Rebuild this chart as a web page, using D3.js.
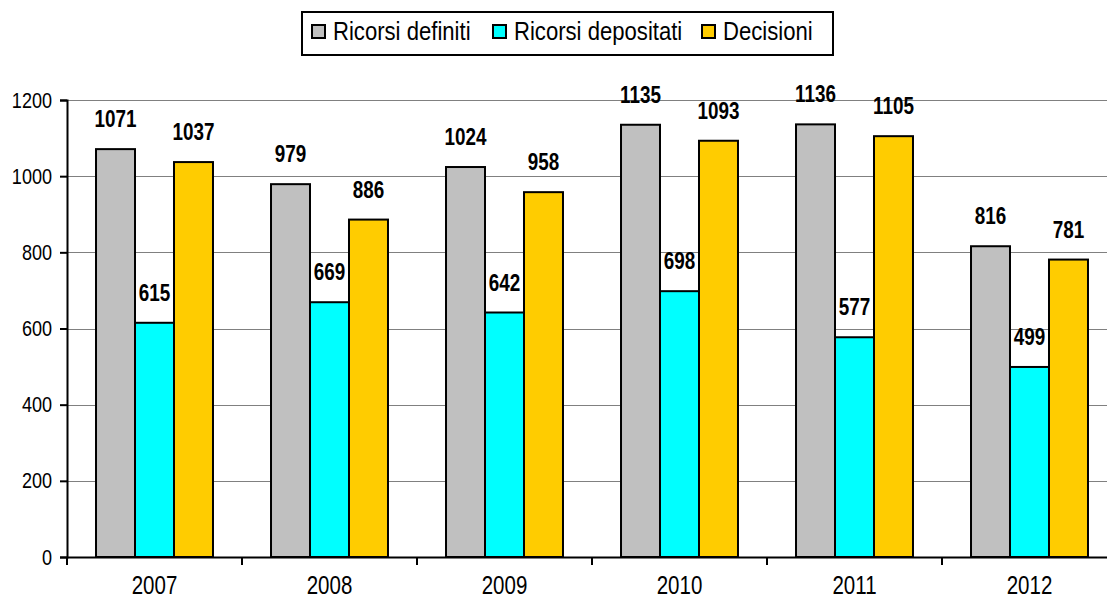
<!DOCTYPE html>
<html><head><meta charset="utf-8">
<script src="https://cdn.jsdelivr.net/npm/d3@7/dist/d3.min.js"></script>
<style>
body{margin:0;background:#fff;}
svg{display:block;}
text{font-family:"Liberation Sans",Arial,sans-serif;fill:#000;}
</style></head><body>
<svg id="c" width="1107" height="601"></svg>
<script>
const years = ["2007","2008","2009","2010","2011","2012"];
const seriesNames = ["Ricorsi definiti","Ricorsi depositati","Decisioni"];
const definiti = [1071,979,1024,1135,1136,816];
const depositati = [615,669,642,698,577,499];
const decisioni = [1037,886,958,1093,1105,781];
const colors = ["#C0C0C0","#00FFFF","#FFCC00"];
const yTicks = [0,200,400,600,800,1000,1200];

const series = [definiti, depositati, decisioni];
const svg = d3.select("#c");
function narrow(sel, f){
  sel.each(function(){
    const len = this.getComputedTextLength();
    d3.select(this).attr("textLength", len*f).attr("lengthAdjust","spacingAndGlyphs");
  });
}

const plotL = 67, plotR = 1117, plotT = 100, plotB = 557;
const x = d3.scaleBand().domain(years).range([plotL, plotR]).paddingInner(0).paddingOuter(0);
const x1 = d3.scaleBand().domain(seriesNames).range([0, x.bandwidth()]).paddingOuter(0.744).paddingInner(0);
const y = d3.scaleLinear().domain([0,1200]).range([plotB, plotT]);

// gridlines
svg.append("g").selectAll("line").data(yTicks.filter(d=>d>0)).join("line")
  .attr("x1", plotL).attr("x2", 1107)
  .attr("y1", d=>Math.round(y(d))+0.5).attr("y2", d=>Math.round(y(d))+0.5)
  .attr("stroke", "#808080").attr("stroke-width", 1.2);

// bars
const g = svg.append("g");
years.forEach((yr,i)=>{
  seriesNames.forEach((s,j)=>{
    const v = series[j][i];
    g.append("rect")
      .attr("x", x(yr) + x1(s))
      .attr("y", y(v))
      .attr("width", x1.bandwidth())
      .attr("height", y(0) - y(v))
      .attr("fill", colors[j]).attr("stroke", "#000").attr("stroke-width", 2);
  });
});
years.forEach((yr,i)=>{
  seriesNames.forEach((s,j)=>{
    const v = series[j][i];
    g.append("text").attr("class","lbl")
      .attr("x", x(yr) + x1(s) + x1.bandwidth()/2)
      .attr("y", y(v) - 22)
      .attr("text-anchor","middle")
      .attr("font-size", 23).attr("font-weight","bold")
      .text(v);
  });
});
narrow(g.selectAll("text.lbl"), 0.82);

// y axis
const yAxis = d3.axisLeft(y).tickValues(yTicks).tickFormat(d3.format("d")).tickSize(7).tickPadding(8);
const ya = svg.append("g").attr("transform", `translate(${plotL},0)`).call(yAxis);
ya.select(".domain").attr("stroke","#000").attr("stroke-width",2);
ya.selectAll(".tick line").attr("stroke","#000").attr("stroke-width",2);
ya.selectAll(".tick text").attr("font-size",22).attr("fill","#000")
  .style("font-family",'"Liberation Sans",Arial,sans-serif');
narrow(ya.selectAll(".tick text"), 0.82);

// x axis
const xAxis = d3.axisBottom(x).tickSize(0).tickPadding(0);
const xa = svg.append("g").attr("transform", `translate(0,${y(0)})`).call(xAxis);
xa.select(".domain").attr("stroke","#000").attr("stroke-width",2);
xa.selectAll(".tick text").attr("font-size",25).attr("fill","#000").attr("dy",null).attr("y",37)
  .style("font-family",'"Liberation Sans",Arial,sans-serif');
narrow(xa.selectAll(".tick text"), 0.82);
xa.append("g").selectAll("line").data(years.map(d=>x(d)))
  .join("line").attr("x1",d=>d).attr("x2",d=>d).attr("y1",0).attr("y2",8)
  .attr("stroke","#000").attr("stroke-width",2);

// legend
const lg = svg.append("g");
lg.append("rect").attr("x",302).attr("y",12).attr("width",531).attr("height",43)
  .attr("fill","#fff").attr("stroke","#000").attr("stroke-width",2);
const lx = [312, 493, 702];
seriesNames.forEach((s,j)=>{
  lg.append("rect").attr("x", lx[j]).attr("y", 25).attr("width", 13).attr("height", 13)
    .attr("fill", colors[j]).attr("stroke","#000").attr("stroke-width",2);
  lg.append("text").attr("class","lt").attr("x", lx[j]+21).attr("y", 40).attr("font-size", 26).text(s);
});
narrow(lg.selectAll("text.lt"), 0.85);
</script>
</body></html>
